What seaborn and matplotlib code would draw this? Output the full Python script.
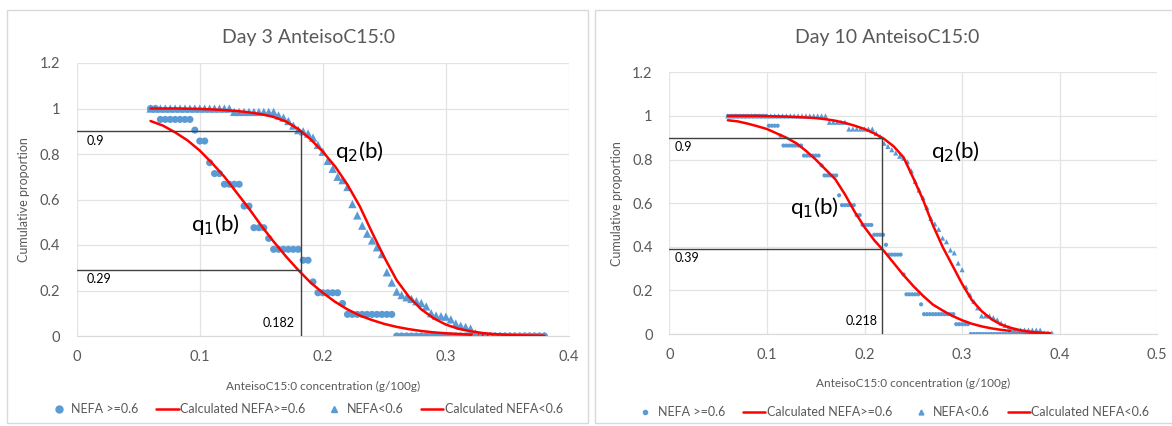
import numpy as np
import pandas as pd
import seaborn as sns
import matplotlib
matplotlib.use('Agg')
from matplotlib import pyplot as plt
from matplotlib.lines import Line2D
from matplotlib.patches import Rectangle
from matplotlib.ticker import FuncFormatter

# ---- Day 3 ----
# empirical points, evaluated on a b grid (step 0.004)
day3_b = np.round(np.arange(0.060, 0.3805, 0.004), 3)
day3_high = ([1.0] * 2 + [0.952] * 7 + [0.905] + [0.857] * 2 + [0.762] + [0.714] * 2
             + [0.667] * 4 + [0.571] * 2 + [0.476] * 3 + [0.429] + [0.381] * 6
             + [0.333] * 2 + [0.238] + [0.190] * 5 + [0.143] + [0.095] * 10 + [0.0] * 31)
day3_low = ([1.0] * 17 + [0.985] * 9
            + [0.97, 0.96, 0.945, 0.925, 0.905, 0.90, 0.89, 0.872, 0.84, 0.81,
               0.77, 0.735, 0.70, 0.685, 0.655, 0.58, 0.53, 0.485, 0.45, 0.42,
               0.39, 0.36, 0.28, 0.235, 0.195, 0.18, 0.17, 0.163, 0.153, 0.145,
               0.13, 0.10, 0.09, 0.087, 0.085, 0.073, 0.055, 0.045, 0.04, 0.033, 0.012]
            + [0.0] * 14)
# fitted curves
day3_fit_b = [0.06, 0.07, 0.08, 0.09, 0.10, 0.11, 0.12, 0.13, 0.14, 0.15, 0.16,
              0.17, 0.18, 0.19, 0.20, 0.21, 0.22, 0.23, 0.24, 0.25, 0.26, 0.27,
              0.28, 0.29, 0.30, 0.31, 0.32, 0.33, 0.34, 0.35, 0.36, 0.37, 0.38]
day3_fit_high = [0.945, 0.925, 0.895, 0.86, 0.815, 0.76, 0.70, 0.63, 0.56, 0.485, 0.415,
                 0.35, 0.29, 0.235, 0.19, 0.15, 0.117, 0.09, 0.07, 0.053, 0.04, 0.03,
                 0.022, 0.016, 0.012, 0.009, 0.006, 0.004, 0.003, 0.002, 0.001, 0.001, 0.0]
day3_fit_low = [1.0, 1.0, 1.0, 0.999, 0.998, 0.996, 0.993, 0.989, 0.983, 0.975, 0.963,
                0.943, 0.91, 0.865, 0.81, 0.745, 0.665, 0.57, 0.455, 0.345, 0.245, 0.172,
                0.117, 0.078, 0.05, 0.032, 0.021, 0.013, 0.008, 0.005, 0.003, 0.002, 0.001]
day3_cut = 0.182
day3_levels = [0.9, 0.29]

# ---- Day 10 ----
day10_b_high = np.round(np.arange(0.060, 0.3905, 0.003), 3)
day10_high = ([1.0] * 14 + [0.955] * 4 + [0.909] + [0.864] * 7 + [0.818] * 6 + [0.773]
              + [0.727] * 5 + [0.636] + [0.591] * 5 + [0.545] * 2 + [0.5] * 4 + [0.455] * 4
              + [0.409] + [0.364] * 5 + [0.273] + [0.182] * 5 + [0.136] + [0.091] * 11
              + [0.045] * 5 + [0.0] * 28)
day10_b_low = np.round(np.arange(0.060, 0.3925, 0.004), 3)
day10_low = ([1.0] * 26 + [0.971] * 5 + [0.94] * 7
             + [0.92, 0.905, 0.875, 0.86, 0.845, 0.83, 0.815, 0.806, 0.79, 0.748,
                0.70, 0.66, 0.625, 0.58, 0.53, 0.505, 0.48, 0.44, 0.423, 0.385,
                0.372, 0.325, 0.295, 0.215, 0.18, 0.15, 0.12, 0.083, 0.083, 0.083,
                0.075, 0.065, 0.05, 0.04, 0.03]
             + [0.018] * 8 + [0.005] * 3)
day10_fit_b = [0.06, 0.07, 0.08, 0.09, 0.10, 0.11, 0.12, 0.13, 0.14, 0.15, 0.16,
               0.17, 0.18, 0.19, 0.20, 0.21, 0.22, 0.23, 0.24, 0.25, 0.26, 0.27,
               0.28, 0.29, 0.30, 0.31, 0.32, 0.33, 0.34, 0.35, 0.36, 0.37, 0.38, 0.39]
day10_fit_high = [0.98, 0.975, 0.965, 0.953, 0.94, 0.92, 0.90, 0.875, 0.84, 0.80, 0.755,
                  0.71, 0.64, 0.56, 0.49, 0.43, 0.38, 0.325, 0.27, 0.22, 0.175, 0.135,
                  0.108, 0.083, 0.063, 0.047, 0.035, 0.026, 0.019, 0.014, 0.01, 0.007,
                  0.005, 0.004]
day10_fit_low = [1.0, 1.0, 1.0, 1.0, 0.999, 0.998, 0.997, 0.995, 0.993, 0.99, 0.985,
                 0.978, 0.968, 0.955, 0.94, 0.92, 0.895, 0.86, 0.81, 0.715, 0.615, 0.5,
                 0.4, 0.315, 0.23, 0.155, 0.105, 0.068, 0.043, 0.028, 0.017, 0.01,
                 0.006, 0.003]
day10_cut = 0.218
day10_levels = [0.9, 0.39]

BLUE = '#5B9BD5'
GREY = '#595959'

sns.set_style('white')
plt.rcParams['font.family'] = ['Lato', 'DejaVu Sans']

fig = plt.figure(figsize=(11.72, 4.26), dpi=100)
W, H = 1172, 426

def px(x0, x1, y0, y1):
    return [x0 / W, 1 - y1 / H, (x1 - x0) / W, (y1 - y0) / H]

# chart area borders
fig.patches.append(Rectangle((7 / W, 1 - 423 / H), 581 / W, 413 / H, transform=fig.transFigure,
                             fill=False, edgecolor='#D9D9D9', lw=1))
fig.patches.append(Rectangle((595 / W, 1 - 423 / H), 590 / W, 413 / H, transform=fig.transFigure,
                             fill=False, edgecolor='#D9D9D9', lw=1))

ax1 = fig.add_axes(px(76.7, 569, 63, 336))
ax2 = fig.add_axes(px(669.3, 1157.3, 72.3, 334))

panels = [
    (ax1, 'Day 3 AnteisoC15:0', day3_b, day3_high, day3_b, day3_low, day3_fit_b,
     day3_fit_high, day3_fit_low, day3_cut, day3_levels, 0.4, 26, 36,
     ((0.113, 0.49), (0.230, 0.81)), 309, 37, 0.464, -0.267),
    (ax2, 'Day 10 AnteisoC15:0', day10_b_high, day10_high, day10_b_low, day10_low, day10_fit_b,
     day10_fit_high, day10_fit_low, day10_cut, day10_levels, 0.5, 9, 14,
     ((0.149, 0.58), (0.293, 0.835)), 887, 38, 0.456, -0.298),
]

for (ax, title, bh, yh, bl, yl, fb, fh, fl, cut, levels, xmax, s_c, s_t,
     qpos, tx, ty, legx, legy) in panels:
    sns.scatterplot(x=bh, y=yh, marker='o', s=s_c, color=BLUE, edgecolor='none',
                    ax=ax, legend=False, zorder=3)
    sns.lineplot(x=fb, y=fh, color='red', lw=1.8, ax=ax, legend=False, zorder=4)
    sns.scatterplot(x=bl, y=yl, marker='^', s=s_t, color=BLUE, edgecolor='none',
                    ax=ax, legend=False, zorder=5)
    sns.lineplot(x=fb, y=fl, color='red', lw=1.8, ax=ax, legend=False, zorder=6)

    # reading lines
    for lev in levels:
        ax.plot([0, cut], [lev, lev], color='#404040', lw=1, zorder=7)
        ax.text(0.008 if xmax == 0.4 else 0.005, lev - 0.015, '{:g}'.format(lev),
                ha='left', va='top', fontsize=9, color='black')
    ax.plot([cut, cut], [0, levels[0]], color='#404040', lw=1, zorder=7)
    ax.text(cut - 0.005, 0.03, '{:g}'.format(cut), ha='right', va='bottom',
            fontsize=9, color='black')

    ax.text(qpos[0][0], qpos[0][1], 'q$_1$(b)', fontsize=16, ha='center', va='center',
            color='black', zorder=8)
    ax.text(qpos[1][0], qpos[1][1], 'q$_2$(b)', fontsize=16, ha='center', va='center',
            color='black', zorder=8)

    ax.set_xlim(0, xmax)
    ax.set_ylim(0, 1.2)
    ax.set_xticks(np.arange(0, xmax + 0.001, 0.1))
    ax.set_yticks(np.arange(0, 1.21, 0.2))
    fmt = FuncFormatter(lambda v, p: '{:g}'.format(round(v, 2)))
    ax.xaxis.set_major_formatter(fmt)
    ax.yaxis.set_major_formatter(fmt)
    ax.grid(True, color='#E3E3E3', lw=0.9)
    ax.set_axisbelow(True)
    for sp in ax.spines.values():
        sp.set_visible(False)
    ax.spines['bottom'].set_visible(True)
    ax.spines['bottom'].set_color('#D9D9D9')
    ax.tick_params(length=0, labelsize=10.5, labelcolor=GREY, pad=12)
    ax.tick_params(axis='x', pad=10)

    ax.set_xlabel('AnteisoC15:0 concentration (g/100g)', fontsize=8.5, color=GREY)
    ax.set_ylabel('Cumulative proportion', fontsize=9, color=GREY)
    ax.xaxis.set_label_coords(0.5, -0.165 if xmax == 0.4 else -0.168)
    ax.yaxis.set_label_coords(-0.095, 0.5)

    fig.text(tx / W, 1 - ty / H, title, fontsize=14, color=GREY, ha='center', va='center')

    handles = [
        Line2D([], [], ls='none', marker='o', color=BLUE, markersize=5 if xmax == 0.4 else 3),
        Line2D([], [], color='red', lw=1.8),
        Line2D([], [], ls='none', marker='^', color=BLUE, markersize=5 if xmax == 0.4 else 3.5),
        Line2D([], [], color='red', lw=1.8),
    ]
    labels = ['NEFA >=0.6', 'Calculated NEFA>=0.6', 'NEFA<0.6', 'Calculated NEFA<0.6']
    leg = ax.legend(handles, labels, ncol=4, loc='center', bbox_to_anchor=(legx, legy),
                    frameon=False, fontsize=9, handlelength=1.8, handletextpad=0.1,
                    columnspacing=1.4)
    for t in leg.get_texts():
        t.set_color(GREY)

fig.savefig('out.png', dpi=100)
